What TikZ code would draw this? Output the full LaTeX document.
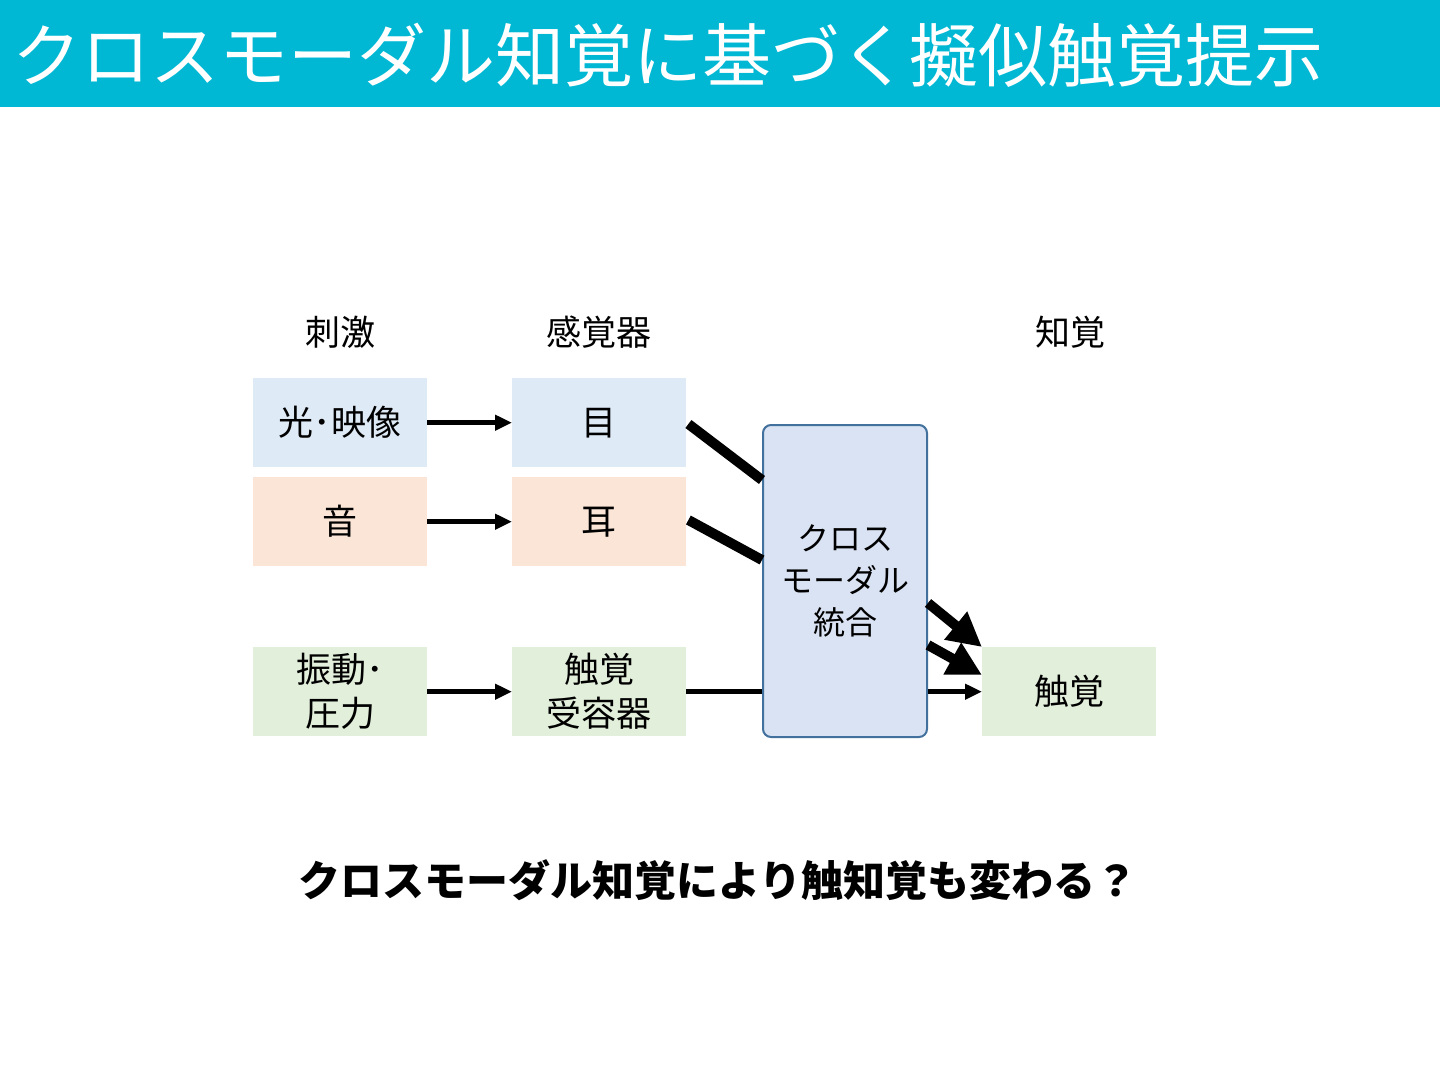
\documentclass[tikz,border=0pt]{standalone}
\usepackage{fontspec}
\setmainfont{Noto Sans CJK JP}
\usetikzlibrary{arrows.meta,calc}
\definecolor{titlebg}{RGB}{0,184,212}
\definecolor{bluefill}{RGB}{222,234,246}
\definecolor{orangefill}{RGB}{251,229,214}
\definecolor{greenfill}{RGB}{226,239,218}
\definecolor{cmfill}{RGB}{218,227,243}
\definecolor{cmdraw}{RGB}{65,113,156}
\tikzset{
  box/.style={minimum width=174pt,minimum height=89pt,inner sep=0pt,anchor=north west,align=center,font=\fontsize{35}{44}\selectfont},
  hdr/.style={font=\fontsize{35}{42}\selectfont,inner sep=0pt},
  thinarrow/.style={line width=5pt,-{Triangle[length=17pt,width=15pt]}},
  thickline/.style={line width=10pt},
  thickarrow/.style={line width=10pt,-{Triangle[length=34pt,width=34pt]}}
}
\begin{document}
\begin{tikzpicture}[x=1pt,y=-1pt]
\useasboundingbox (0,0) rectangle (1440,1080);
\fill[white] (0,0) rectangle (1440,1080);
\fill[titlebg] (0,0) rectangle (1440,107);
\node[anchor=west,inner sep=0pt,text=white,font=\fontsize{69}{80}\selectfont] (title) at (12,55) {クロスモーダル知覚に基づく擬似触覚提示};

\node[hdr] (h1) at (340,332) {刺激};
\node[hdr] (h2) at (599,332) {感覚器};
\node[hdr] (h3) at (1070,332) {知覚};

\node[box,fill=bluefill] (light) at (253,378) {光･映像};
\node[box,fill=bluefill] (eye) at (512,378) {目};
\node[box,fill=orangefill] (sound) at (253,477) {音};
\node[box,fill=orangefill] (ear) at (512,477) {耳};
\node[box,fill=greenfill] (vib) at (253,647) {振動･\\圧力};
\node[box,fill=greenfill] (rec) at (512,647) {触覚\\受容器};
\node[box,fill=greenfill] (touch) at (982,647) {触覚};

\node[draw=cmdraw,line width=2pt,fill=cmfill,rounded corners=8pt,minimum width=164pt,minimum height=312pt,anchor=north west,inner sep=0pt,align=center,font=\fontsize{32}{42}\selectfont] (cm) at (762,424) {クロス\\モーダル\\統合};

\draw[thinarrow] (light.east) -- (eye.west);
\draw[thinarrow] (sound.east) -- (ear.west);
\draw[thinarrow] (vib.east) -- (rec.west);

\coordinate (eyeout) at ($(eye.north east)+(2,46)$);
\coordinate (earout) at ($(ear.north east)+(2,43)$);
\draw[thickline] (eyeout) -- (cm.west |- 0,480);
\draw[thickline] (earout) -- (cm.west |- 0,560);
\draw[line width=5pt] (rec.east) -- (cm.west |- rec.east);

\draw[thickarrow] (cm.east |- 0,603) -- ($(touch.north west)+(0,0)$);
\draw[thickarrow] (cm.east |- 0,645) -- ($(touch.north west)+(0,28)$);
\draw[thinarrow] (cm.east |- touch.west) -- (touch.west);

\node[inner sep=0pt,font=\bfseries\fontsize{42}{50}\selectfont] (q) at (718,880) {クロスモーダル知覚により触知覚も変わる？};
\end{tikzpicture}
\end{document}
